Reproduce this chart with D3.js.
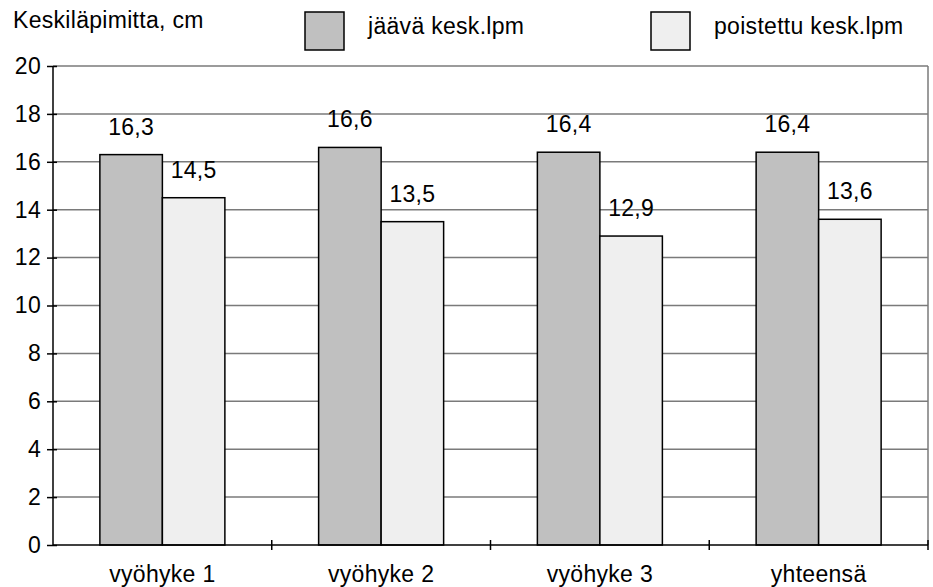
<!DOCTYPE html>
<html>
<head>
<meta charset="utf-8">
<script src="https://cdn.jsdelivr.net/npm/d3@7"></script>
<style>
  html, body { margin: 0; padding: 0; background: #ffffff; }
  svg { display: block; font-family: "Liberation Sans", Arial, sans-serif; }
  svg text { letter-spacing: 0.3px; }
</style>
</head>
<body>
<svg id="chart" width="933" height="587"></svg>
<script>
// Mean diameters (cm) per zone: remaining vs. removed trees
const categories = ["vyöhyke 1", "vyöhyke 2", "vyöhyke 3", "yhteensä"];
const seriesNames = ["jäävä kesk.lpm", "poistettu kesk.lpm"];
const remaining = [16.3, 16.6, 16.4, 16.4];
const removed = [14.5, 13.5, 12.9, 13.6];
const yTicks = [0, 2, 4, 6, 8, 10, 12, 14, 16, 18, 20];
const seriesColors = ["#c0c0c0", "#efefef"];
const fmt = v => String(v).replace(".", ",");

const FS = 23;
const svg = d3.select("#chart");
const margin = { left: 53, right: 5, top: 66, bottom: 42 };
const W = 933, H = 587;

const x0 = d3.scaleBand().domain(categories)
  .range([margin.left, W - margin.right]).paddingInner(0).paddingOuter(0);
const x1 = d3.scaleBand().domain(seriesNames)
  .range([0, x0.bandwidth()]).paddingOuter(0.75).paddingInner(0);
const y = d3.scaleLinear().domain([0, 20]).range([H - margin.bottom, margin.top]);

// horizontal gridlines
svg.append("g").selectAll("line").data(yTicks.filter(t => t > 0)).join("line")
  .attr("x1", margin.left).attr("x2", W - margin.right)
  .attr("y1", d => y(d)).attr("y2", d => y(d))
  .attr("stroke", "#7a7a7a").attr("stroke-width", 1.5);

// right frame edge
svg.append("line")
  .attr("x1", W - margin.right).attr("x2", W - margin.right)
  .attr("y1", y(20)).attr("y2", y(0))
  .attr("stroke", "#7a7a7a").attr("stroke-width", 1.5);

// bars
const rows = categories.map((c, i) => ({ cat: c, vals: [remaining[i], removed[i]] }));
const groups = svg.append("g").selectAll("g").data(rows).join("g")
  .attr("transform", d => `translate(${x0(d.cat)},0)`);

groups.selectAll("rect").data(d => d.vals.map((v, j) => ({ v, s: seriesNames[j], j })))
  .join("rect")
  .attr("x", d => x1(d.s))
  .attr("width", x1.bandwidth())
  .attr("y", d => y(d.v))
  .attr("height", d => y(0) - y(d.v))
  .attr("fill", d => seriesColors[d.j])
  .attr("stroke", "#000").attr("stroke-width", 1.5);

// value labels
groups.selectAll("text").data(d => d.vals.map((v, j) => ({ v, s: seriesNames[j] })))
  .join("text")
  .attr("x", d => x1(d.s) + x1.bandwidth() / 2)
  .attr("y", d => y(d.v) - 20)
  .attr("text-anchor", "middle")
  .attr("font-size", FS).attr("fill", "#000")
  .text(d => fmt(d.v));

// y axis
const yAxis = svg.append("g").attr("transform", `translate(${margin.left},0)`)
  .call(d3.axisLeft(y).tickValues(yTicks).tickSize(6).tickPadding(6));
yAxis.select(".domain").attr("stroke", "#000").attr("stroke-width", 1.5)
  .attr("d", `M0,${y(20)}V${y(0)}`);
yAxis.selectAll(".tick line").attr("stroke", "#000").attr("stroke-width", 1.5)
  .attr("x1", 4).attr("x2", -6);
yAxis.selectAll(".tick text").attr("font-size", FS).attr("fill", "#000")
  .attr("font-family", "Liberation Sans, Arial, sans-serif");

// x axis: ticks at category boundaries
const boundaries = categories.map(c => x0(c) + x0.bandwidth());
svg.append("line")
  .attr("x1", margin.left).attr("x2", W - margin.right)
  .attr("y1", y(0)).attr("y2", y(0))
  .attr("stroke", "#000").attr("stroke-width", 1.5);
svg.append("g").selectAll("line").data(boundaries).join("line")
  .attr("x1", d => d).attr("x2", d => d)
  .attr("y1", y(0) - 5).attr("y2", y(0) + 5)
  .attr("stroke", "#000").attr("stroke-width", 1.5);
svg.append("g").selectAll("text").data(categories).join("text")
  .attr("x", d => x0(d) + x0.bandwidth() / 2)
  .attr("y", y(0) + 37)
  .attr("text-anchor", "middle")
  .attr("font-size", FS).attr("fill", "#000")
  .text(d => d);

// axis title
svg.append("text").attr("x", 13).attr("y", 28)
  .attr("font-size", FS).attr("fill", "#000")
  .text("Keskiläpimitta, cm");

// legend
const legendX = [305, 651];
const legend = svg.append("g").selectAll("g").data(seriesNames).join("g")
  .attr("transform", (d, i) => `translate(${legendX[i]},12)`);
legend.append("rect").attr("width", 39).attr("height", 38)
  .attr("fill", (d, i) => seriesColors[i])
  .attr("stroke", "#000").attr("stroke-width", 1.5);
legend.append("text").attr("x", 63).attr("y", 22)
  .attr("font-size", FS).attr("fill", "#000")
  .text(d => d);
</script>
</body>
</html>
